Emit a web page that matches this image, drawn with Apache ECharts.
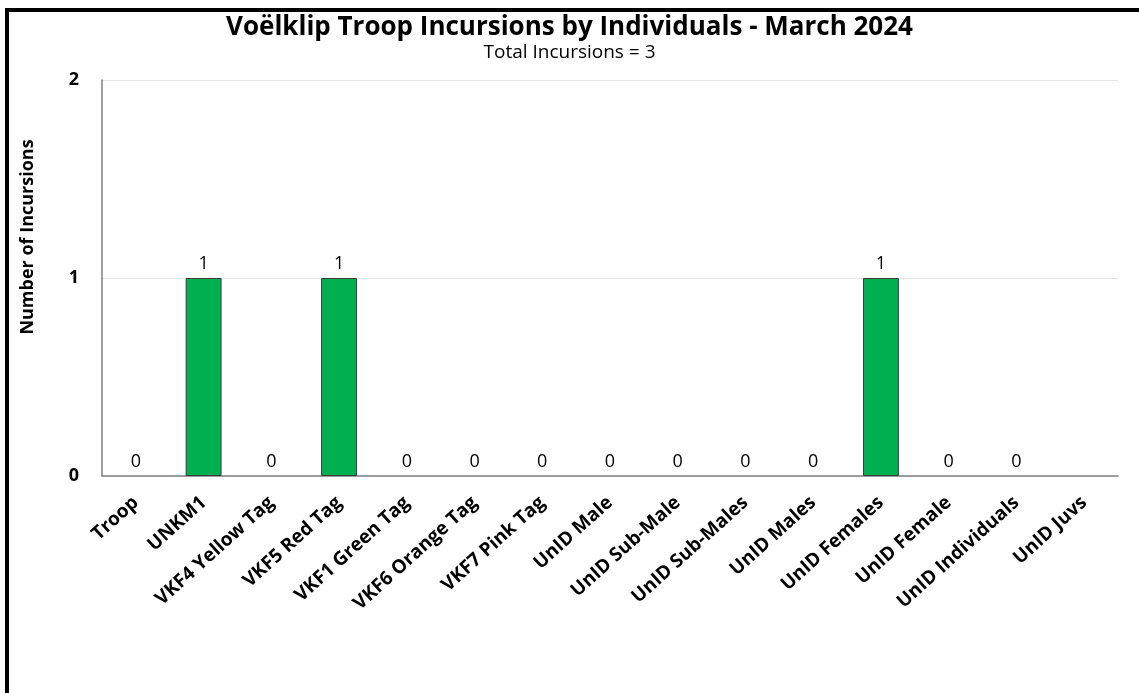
<!DOCTYPE html>
<html>
<head>
<meta charset="utf-8">
<script src="https://cdn.jsdelivr.net/npm/echarts@6/dist/echarts.min.js"></script>
<style>html,body{margin:0;padding:0;background:#fff;}#c{width:1139px;height:693px;}</style>
</head>
<body>
<div id="c"></div>
<script>
const categories = ["Troop","UNKM1","VKF4 Yellow Tag","VKF5 Red Tag","VKF1 Green Tag","VKF6 Orange Tag","VKF7 Pink Tag","UnID Male","UnID Sub-Male","UnID Sub-Males","UnID Males","UnID Females","UnID Female","UnID Individuals","UnID Juvs"];
const incursions = [0,1,0,1,0,0,0,0,0,0,0,1,0,0,null];
const yTicks = [0,1,2];
const titleText = "Voëlklip Troop Incursions by Individuals - March 2024";
const subtitleText = "Total Incursions = 3";
const yAxisName = "Number of Incursions";

const barData = incursions.map(v => (v === 0 ? {value: v, itemStyle: {borderWidth: 0}} : v));

const chart = echarts.init(document.getElementById('c'));
chart.setOption({
  animation: false,
  backgroundColor: '#fff',
  title: [
    {text: titleText, left: 'center', top: 15, padding: 0,
     textStyle: {fontFamily: 'Open Sans', fontWeight: 'bold', fontSize: 26, color: '#000'}},
    {text: subtitleText, left: 'center', top: 43, padding: 0,
     textStyle: {fontFamily: 'Open Sans', fontWeight: 'normal', fontSize: 19, color: '#000'}}
  ],
  graphic: [
    {type: 'rect', shape: {x: 7, y: 10, width: 1300, height: 900}, style: {fill: 'none', stroke: '#000', lineWidth: 4}, silent: true},
    {type: 'text', x: 28, y: 237, rotation: Math.PI/2, style: {text: yAxisName, fontFamily: 'Open Sans', fontWeight: 'bold', fontSize: 18, fill: '#000', align: 'center', verticalAlign: 'middle'}}
  ],
  grid: {left: 102, right: 21, top: 80, bottom: 217, containLabel: false},
  xAxis: {
    type: 'category',
    data: categories,
    axisLine: {lineStyle: {color: '#808080', width: 1.5}},
    axisTick: {show: false},
    axisLabel: {interval: 0, rotate: 42, fontFamily: 'Open Sans', fontWeight: 'bold', fontSize: 19, color: '#000', margin: 24}
  },
  yAxis: {
    type: 'value',
    min: yTicks[0],
    max: yTicks[yTicks.length-1],
    interval: 1,
    axisLine: {show: true, lineStyle: {color: '#808080', width: 1.5}},
    axisTick: {show: false},
    splitLine: {lineStyle: {color: '#e6e6e6', width: 1}},
    axisLabel: {fontFamily: 'Open Sans', fontWeight: 'bold', fontSize: 18, color: '#000', margin: 23}
  },
  series: [{
    type: 'bar',
    data: barData,
    barWidth: '53%',
    itemStyle: {color: '#00B050', borderColor: '#3a3a3a', borderWidth: 1},
    label: {show: true, position: 'top', distance: 5, fontFamily: 'Open Sans', fontSize: 18, color: '#000'}
  }]
});
</script>
</body>
</html>
